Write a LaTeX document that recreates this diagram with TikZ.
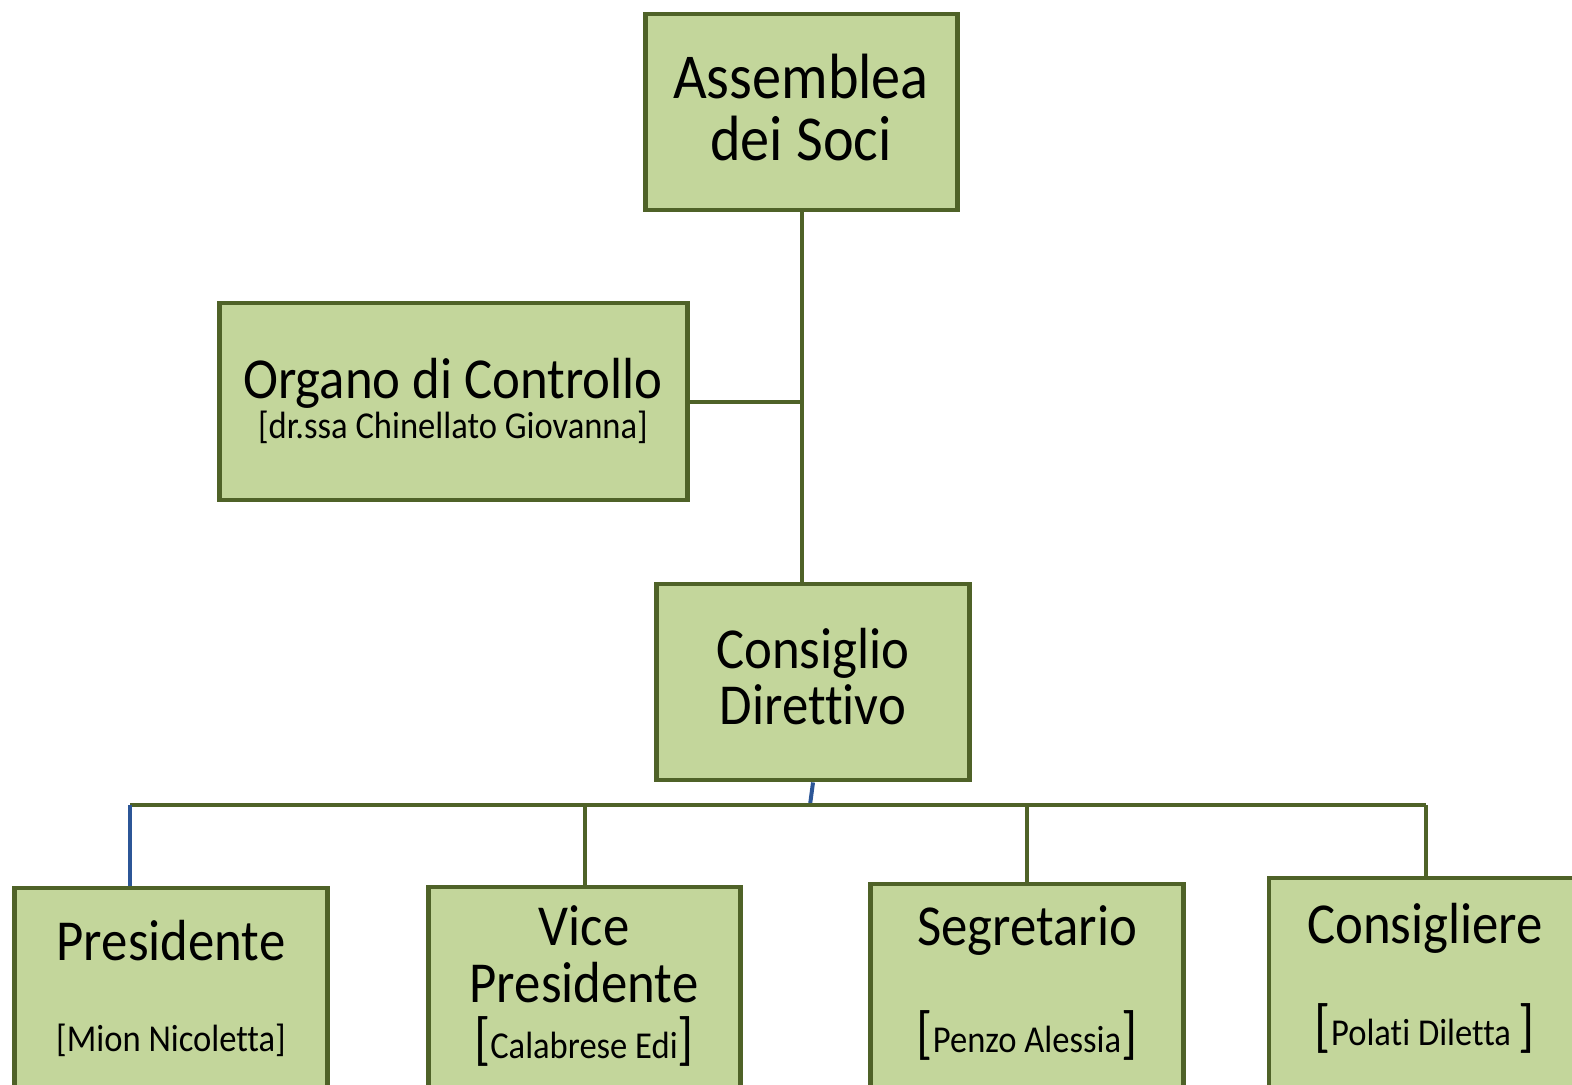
\documentclass[tikz,border=0pt]{standalone}
\usepackage{fontspec}
\setmainfont{Carlito}[FakeStretch=0.91, Ligatures={NoCommon}]
\usepackage{tikz}
\usetikzlibrary{positioning}
\usetikzlibrary{calc}

\definecolor{boxfill}{HTML}{C3D69B}
\definecolor{boxline}{HTML}{4F6228}
\definecolor{linkblue}{HTML}{2C5697}

\newcommand{\bigbr}[1]{{\fontsize{29}{29}\selectfont #1}}

\begin{document}
\begin{tikzpicture}[x=0.5pt, y=-0.5pt,
		orgbox/.style={draw=boxline, fill=boxfill, line width=2.4pt, inner sep=0pt},
		link/.style={draw=boxline, line width=2pt},
		bluelink/.style={draw=linkblue, line width=2pt},
		bigtxt/.style={anchor=base, inner sep=0pt, font=\fontsize{32}{32}\selectfont},
		roletxt/.style={anchor=base, inner sep=0pt, font=\fontsize{29}{29}\selectfont},
		nametxt/.style={anchor=base, inner sep=0pt, font=\fontsize{19}{19}\selectfont}]
		\useasboundingbox (0,0) rectangle (1572,1084);

		\node[orgbox, minimum width=156pt, minimum height=98pt] (asm) at (801.5,112) {};
		\node[orgbox, minimum width=234pt, minimum height=98.5pt] (org) at (453.5,401.5) {};
		\node[orgbox, minimum width=156.5pt, minimum height=98pt] (cd) at (813,682) {};

		\node[orgbox, minimum width=156.5pt, minimum height=110pt] (pres) at (171,998) {};
		\node[orgbox, minimum width=156pt, minimum height=110pt] (vice) at (584.5,997) {};
		\node[orgbox, minimum width=156.5pt, minimum height=112pt] (seg) at (1027,996) {};
		\node[orgbox, minimum width=156.5pt, minimum height=114pt] (cons) at (1425.5,992) {};

		% texts
		\node[bigtxt] (asm-a) at (801,98) {Assemblea};
		\node[bigtxt] (asm-b) at (801,160) {dei Soci};
		\node[roletxt] (org-a) at (453,398) {Organo di Controllo};
		\node[nametxt] (org-b) at (453,438) {[dr.ssa Chinellato Giovanna]};
		\node[roletxt] (cd-a) at (813,668) {Consiglio};
		\node[roletxt] (cd-b) at (813,724) {Direttivo};

		\node[roletxt] (pres-a) at (171,960) {Presidente};
		\node[nametxt] (pres-b) at (171,1051) {[Mion Nicoletta]};
		\node[roletxt] (vice-a) at (584,945) {Vice};
		\node[roletxt] (vice-b) at (584,1002) {Presidente};
		\node[nametxt] (vice-c) at (584,1058) {\bigbr{[}Calabrese Edi\bigbr{]}};
		\node[roletxt] (seg-a) at (1027,945) {Segretario};
		\node[nametxt] (seg-b) at (1027,1052) {\bigbr{[}Penzo Alessia\bigbr{]}};
		\node[roletxt] (cons-a) at (1425,943) {Consigliere};
		\node[nametxt] (cons-b) at (1425,1045) {\bigbr{[}Polati Diletta \bigbr{]}};

		% connectors
		\coordinate (busL) at (130,805);
		\coordinate (busR) at (1425.5,805);
		\coordinate (busM) at (810,805);

		\draw[link] (asm.south) -- (asm.south |- cd.north);
		\draw[link] (org.east) -- (asm.south |- org.east);
		\draw[bluelink] (cd.south) -- (busM);
		\draw[link] (busL) -- (busR);
		\draw[bluelink] (busL) -- (busL |- pres.north);
		\draw[link] (vice.north) -- (vice.north |- busL);
		\draw[link] (seg.north) -- (seg.north |- busL);
		\draw[link] (cons.north) -- (busR);
	\end{tikzpicture}
\end{document}
